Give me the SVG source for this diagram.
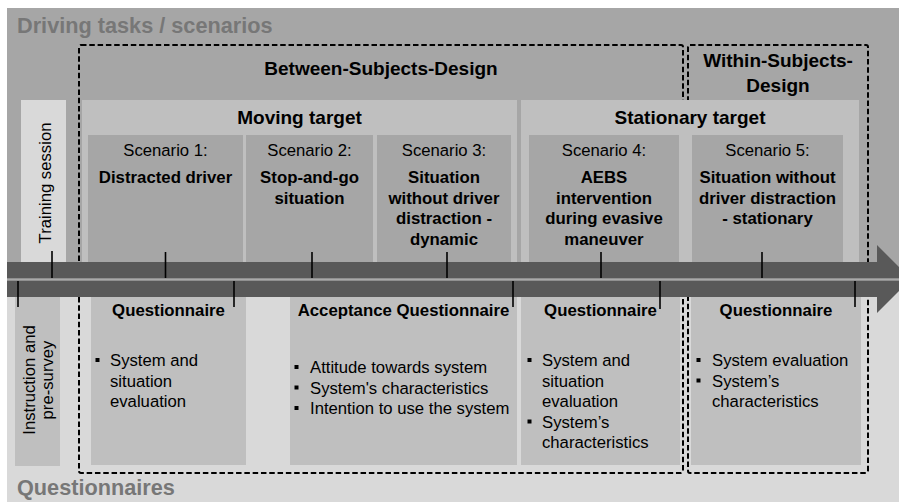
<svg xmlns="http://www.w3.org/2000/svg" width="899" height="502" viewBox="0 0 899 502">
<style>
text{font-family:"Liberation Sans",Arial,sans-serif;fill:#000}
.big{font-size:21.7px;font-weight:bold;fill:#777}
.ttl{font-size:19px;font-weight:bold;text-anchor:middle}
.sc{font-size:16.7px;text-anchor:middle}
.sb{font-size:16.8px;font-weight:bold;text-anchor:middle}
.qh{font-size:16.8px;font-weight:bold;text-anchor:middle}
.bl{font-size:16.7px}
.rot{font-size:16.7px;text-anchor:middle}
.dash{fill:none;stroke:#000;stroke-width:2;stroke-dasharray:5.5 2.8}
.tick{stroke:#000;stroke-width:1.6}
.mid{fill:#bfbfbf}
.scn{fill:#a6a6a6}
.lt{fill:#d9d9d9}
.bul{fill:#000}
</style>
<rect x="0" y="0" width="899" height="502" fill="#fff"/>
<g id="background">
<rect x="7" y="8" width="892" height="272" fill="#a6a6a6"/>
<rect x="7" y="280" width="892" height="222" class="lt"/>
<text class="big" x="17" y="33">Driving tasks / scenarios</text>
<text class="big" x="17" y="495">Questionnaires</text>
</g>
<g id="between-subjects-design">
<rect x="79" y="45" width="604" height="428" rx="2" class="dash"/>
<text class="ttl" x="381" y="75">Between-Subjects-Design</text>
</g>
<g id="within-subjects-design">
<rect x="688" y="45" width="180" height="428" rx="2" class="dash"/>
<text class="ttl" x="778" y="67">Within-Subjects-</text>
<text class="ttl" x="778" y="92">Design</text>
</g>
<g id="training">
<rect x="21" y="100" width="45" height="180" class="lt"/>
<text class="rot" transform="translate(50.5,183) rotate(-90)">Training session</text>
</g>
<g id="moving-target">
<rect x="82" y="100" width="435" height="180" class="mid"/>
<text class="ttl" x="299.5" y="124">Moving target</text>
</g>
<g id="stationary-target">
<rect x="521" y="100" width="338" height="180" class="mid"/>
<text class="ttl" x="690" y="124">Stationary target</text>
</g>
<g id="scenario1">
<rect x="88" y="135" width="155" height="145" class="scn"/>
<text class="sc" x="165.5" y="156">Scenario 1:</text>
<text class="sb" x="165.5" y="183">Distracted driver</text>
</g>
<g id="scenario2">
<rect x="246" y="135" width="127" height="145" class="scn"/>
<text class="sc" x="309.5" y="156">Scenario 2:</text>
<text class="sb" x="309.5" y="183">Stop-and-go</text>
<text class="sb" x="309.5" y="203.5">situation</text>
</g>
<g id="scenario3">
<rect x="377" y="135" width="134" height="145" class="scn"/>
<text class="sc" x="444" y="156">Scenario 3:</text>
<text class="sb" x="444" y="183">Situation</text>
<text class="sb" x="444" y="203.5">without driver</text>
<text class="sb" x="444" y="224">distraction -</text>
<text class="sb" x="444" y="244.5">dynamic</text>
</g>
<g id="scenario4">
<rect x="529" y="135" width="150" height="145" class="scn"/>
<text class="sc" x="604" y="156">Scenario 4:</text>
<text class="sb" x="604" y="183">AEBS</text>
<text class="sb" x="604" y="203.5">intervention</text>
<text class="sb" x="604" y="224">during evasive</text>
<text class="sb" x="604" y="244.5">maneuver</text>
</g>
<g id="scenario5">
<rect x="692" y="135" width="151" height="145" class="scn"/>
<text class="sc" x="767.5" y="156">Scenario 5:</text>
<text class="sb" x="767.5" y="183">Situation without</text>
<text class="sb" x="767.5" y="203.5">driver distraction</text>
<text class="sb" x="767.5" y="224">- stationary</text>
</g>
<g id="instruction">
<rect x="15" y="281" width="45" height="185" class="mid"/>
<text class="rot" transform="translate(34.5,380) rotate(-90)">Instruction and</text>
<text class="rot" transform="translate(52.5,380) rotate(-90)">pre-survey</text>
</g>
<g id="questionnaire1">
<rect x="91" y="281" width="155" height="184" class="mid"/>
<text class="qh" x="168.5" y="316">Questionnaire</text>
<rect x="95.5" y="358" width="4" height="4" class="bul"/>
<text class="bl" x="110" y="366">System and</text>
<text class="bl" x="110" y="386.5">situation</text>
<text class="bl" x="110" y="407">evaluation</text>
</g>
<g id="acceptance-questionnaire">
<rect x="290" y="281" width="227" height="184" class="mid"/>
<text class="qh" x="403.5" y="316">Acceptance Questionnaire</text>
<rect x="294.5" y="365" width="4" height="4" class="bul"/>
<rect x="294.5" y="385.5" width="4" height="4" class="bul"/>
<rect x="294.5" y="406" width="4" height="4" class="bul"/>
<text class="bl" x="310" y="373">Attitude towards system</text>
<text class="bl" x="310" y="393.5">System's characteristics</text>
<text class="bl" x="310" y="414">Intention to use the system</text>
</g>
<g id="questionnaire4">
<rect x="521" y="281" width="159" height="184" class="mid"/>
<text class="qh" x="600.5" y="316">Questionnaire</text>
<rect x="527.5" y="358" width="4" height="4" class="bul"/>
<rect x="527.5" y="419.5" width="4" height="4" class="bul"/>
<text class="bl" x="542" y="366">System and</text>
<text class="bl" x="542" y="386.5">situation</text>
<text class="bl" x="542" y="407">evaluation</text>
<text class="bl" x="542" y="427.5">System’s</text>
<text class="bl" x="542" y="448">characteristics</text>
</g>
<g id="questionnaire5">
<rect x="691" y="281" width="170" height="184" class="mid"/>
<text class="qh" x="776" y="316">Questionnaire</text>
<rect x="696.5" y="358" width="4" height="4" class="bul"/>
<rect x="696.5" y="378.5" width="4" height="4" class="bul"/>
<text class="bl" x="712" y="366">System evaluation</text>
<text class="bl" x="712" y="386.5">System’s</text>
<text class="bl" x="712" y="407">characteristics</text>
</g>
<g id="connectors">
<polygon points="7,262 877,262 877,245 911,279 877,313 877,297 7,297" fill="#595959"/>
<rect x="7" y="278.3" width="892" height="2.4" fill="#a9a9a9"/>
<line class="tick" x1="52" y1="251" x2="52" y2="278"/>
<line class="tick" x1="165.5" y1="252" x2="165.5" y2="278"/>
<line class="tick" x1="312" y1="252" x2="312" y2="278"/>
<line class="tick" x1="447" y1="252" x2="447" y2="278"/>
<line class="tick" x1="601" y1="252" x2="601" y2="278"/>
<line class="tick" x1="762" y1="252" x2="762" y2="278"/>
<line class="tick" x1="18" y1="281" x2="18" y2="307"/>
<line class="tick" x1="234" y1="281" x2="234" y2="307"/>
<line class="tick" x1="513" y1="281" x2="513" y2="307"/>
<line class="tick" x1="660" y1="281" x2="660" y2="309"/>
<line class="tick" x1="855" y1="281" x2="855" y2="307"/>
</g>
</svg>
